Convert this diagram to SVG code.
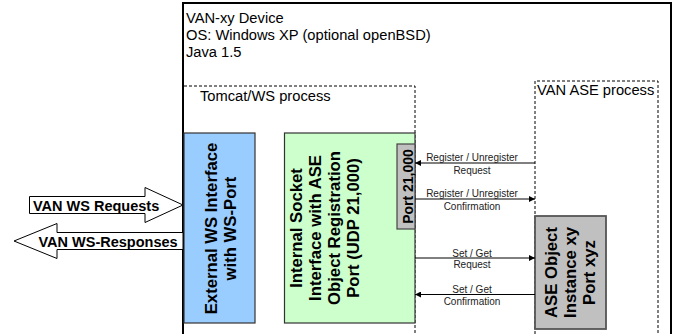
<svg xmlns="http://www.w3.org/2000/svg" width="677" height="334" viewBox="0 0 677 334">
  <style>
    .lbl { font-family: "Liberation Sans", Arial, sans-serif; font-size: 14.7px; fill: #000; }
    .big { font-family: "Liberation Sans", Arial, sans-serif; font-size: 16.7px; font-weight: bold; fill: #000; text-anchor: middle; }
    .blk { font-family: "Liberation Sans", Arial, sans-serif; font-size: 14.5px; font-weight: bold; fill: #000; }
    .msg { font-family: "Liberation Sans", Arial, sans-serif; font-size: 10px; fill: #222; text-anchor: middle; }
    .dash { fill: none; stroke: #000; stroke-width: 1; stroke-dasharray: 3 2; }
    .conn { stroke: #000; stroke-width: 1; fill: none; marker-end: url(#tip); }
    .barrow { fill: #fff; stroke: #000; stroke-width: 1; }
  </style>
  <defs>
    <marker id="tip" viewBox="0 0 6 6" refX="6" refY="3" markerWidth="6" markerHeight="6" markerUnits="userSpaceOnUse" orient="auto">
      <path d="M0,0 L6,3 L0,6 Z" fill="#000"/>
    </marker>
  </defs>

  <!-- device frame -->
  <g id="device">
    <rect x="183" y="3" width="488" height="340" fill="#fff" stroke="#000" stroke-width="2"/>
    <text class="lbl" x="186" y="22.5">VAN-xy Device</text>
    <text class="lbl" x="186" y="39.5">OS: Windows XP (optional openBSD)</text>
    <text class="lbl" x="186" y="57">Java 1.5</text>
  </g>

  <!-- process boundaries -->
  <g id="tomcat-process">
    <path class="dash" d="M184,86 H415 V334"/>
    <text class="lbl" x="200" y="100.5">Tomcat/WS process</text>
  </g>
  <g id="ase-process">
    <path class="dash" d="M535,334 V81 H658 V334"/>
    <text class="lbl" x="537" y="94.5">VAN ASE process</text>
  </g>

  <!-- external interface -->
  <g id="external-ws">
    <rect x="184" y="133" width="71" height="190" fill="#99CCFF" stroke="#333" stroke-width="1.2"/>
    <g class="big">
      <text transform="translate(217,228.5) rotate(-90)">External WS Interface</text>
      <text transform="translate(236,228.5) rotate(-90)">with WS-Port</text>
    </g>
  </g>

  <!-- internal socket interface -->
  <g id="internal-socket">
    <rect x="284.5" y="133" width="130.5" height="190" fill="#CCFFCC" stroke="#333" stroke-width="1.2"/>
    <g class="big">
      <text transform="translate(301.5,228) rotate(-90)">Internal Socket</text>
      <text transform="translate(320.5,228) rotate(-90)">Interface with ASE</text>
      <text transform="translate(339.5,228) rotate(-90)">Object Registration</text>
      <text transform="translate(358.5,228) rotate(-90)">Port (UDP 21,000)</text>
    </g>
  </g>

  <g id="port-21000">
    <rect x="397" y="144" width="18" height="85" fill="#C0C0C0" stroke="#444" stroke-width="1.2"/>
    <text class="big" style="font-size:14px" transform="translate(413,186.5) rotate(-90)">Port 21,000</text>
  </g>

  <!-- ASE object -->
  <g id="ase-object">
    <rect x="535" y="216" width="71" height="113" fill="#C0C0C0" stroke="#555" stroke-width="1.8"/>
    <g class="big">
      <text transform="translate(557,272.5) rotate(-90)">ASE Object</text>
      <text transform="translate(576,272.5) rotate(-90)">Instance xy</text>
      <text transform="translate(595,272.5) rotate(-90)">Port xyz</text>
    </g>
  </g>

  <!-- external request / response arrows -->
  <g id="ws-requests">
    <polygon class="barrow" points="29.5,196.5 145,196.5 145,187.5 183,205 145,222.5 145,213.5 29.5,213.5"/>
    <text class="blk" x="33" y="210.5">VAN WS Requests</text>
  </g>
  <g id="ws-responses">
    <polygon class="barrow" points="183,232.5 57,232.5 57,223.5 14,241 57,258.5 57,249.5 183,249.5"/>
    <text class="blk" x="38.5" y="246.5">VAN WS-Responses</text>
  </g>

  <!-- message connectors -->
  <g id="connectors">
    <line class="conn" x1="535" y1="163" x2="415" y2="163"/>
    <line class="conn" x1="415" y1="199" x2="535" y2="199"/>
    <line class="conn" x1="415" y1="258" x2="535" y2="258"/>
    <line class="conn" x1="535" y1="294.5" x2="415" y2="294.5"/>
    <text class="msg" x="472" y="161">Register / Unregister</text>
    <text class="msg" x="472" y="173.5">Request</text>
    <text class="msg" x="472" y="197">Register / Unregister</text>
    <text class="msg" x="472" y="209.5">Confirmation</text>
    <text class="msg" x="472" y="256.5">Set / Get</text>
    <text class="msg" x="472" y="268">Request</text>
    <text class="msg" x="472" y="292.5">Set / Get</text>
    <text class="msg" x="472" y="304.5">Confirmation</text>
  </g>
</svg>
